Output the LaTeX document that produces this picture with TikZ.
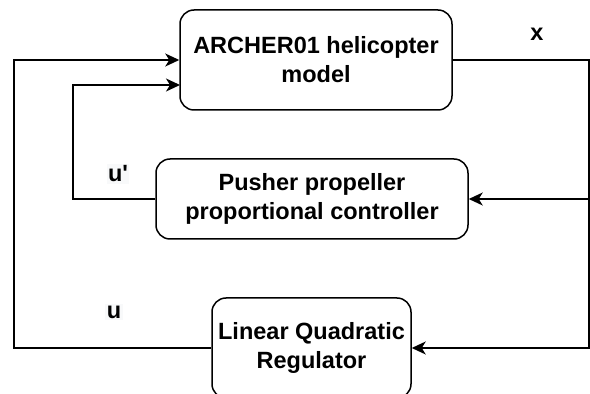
\documentclass[tikz,border=0pt]{standalone}
\usepackage{fontspec}
\setmainfont{Liberation Sans}
\usetikzlibrary{arrows.meta}
\definecolor{lblbg}{RGB}{248,249,250}
\tikzset{
  block/.style={draw=black, line width=1.5pt, rounded corners=14pt, align=center,
    font=\bfseries\fontsize{23.5}{29}\selectfont, inner sep=0pt},
  conn/.style={line width=1.5pt, -{Stealth[length=14pt,width=13pt,inset=4pt]}},
  lbl/.style={font=\bfseries\fontsize{23.5}{28}\selectfont, fill=lblbg, inner sep=1.5pt}
}
\begin{document}
\begin{tikzpicture}[x=1pt,y=1pt]
\useasboundingbox (0,0) rectangle (590,394);
\clip (0,0) rectangle (590,394);
\node[block, minimum width=272pt, minimum height=100pt] (top) at (316,334) {ARCHER01 helicopter\\model};
\node[block, minimum width=312pt, minimum height=80pt] (ppc) at (312,195) {Pusher propeller\\proportional controller};
\node[block, minimum width=199pt, minimum height=100pt] (lqr) at (311.5,46) {Linear Quadratic\\Regulator};
\coordinate (xr) at (589,334);
\coordinate (xl) at (14,334);
\coordinate (xm) at (73,309);
\coordinate (tin2) at (180,309);
\draw[conn] (top.east) -- (xr) |- (lqr.east);
\draw[conn] (xr |- ppc.east) -- (ppc.east);
\draw[conn] (lqr.west) -| (xl) -- (top.west);
\draw[conn] (ppc.west) -| (xm) -- (tin2);
\node[lbl, fill=none] (xlab) at (537,360) {x};
\node[lbl] (uplab) at (118,220) {u\textquotesingle};
\node[lbl] (ulab) at (114,82) {u};
\end{tikzpicture}
\end{document}
